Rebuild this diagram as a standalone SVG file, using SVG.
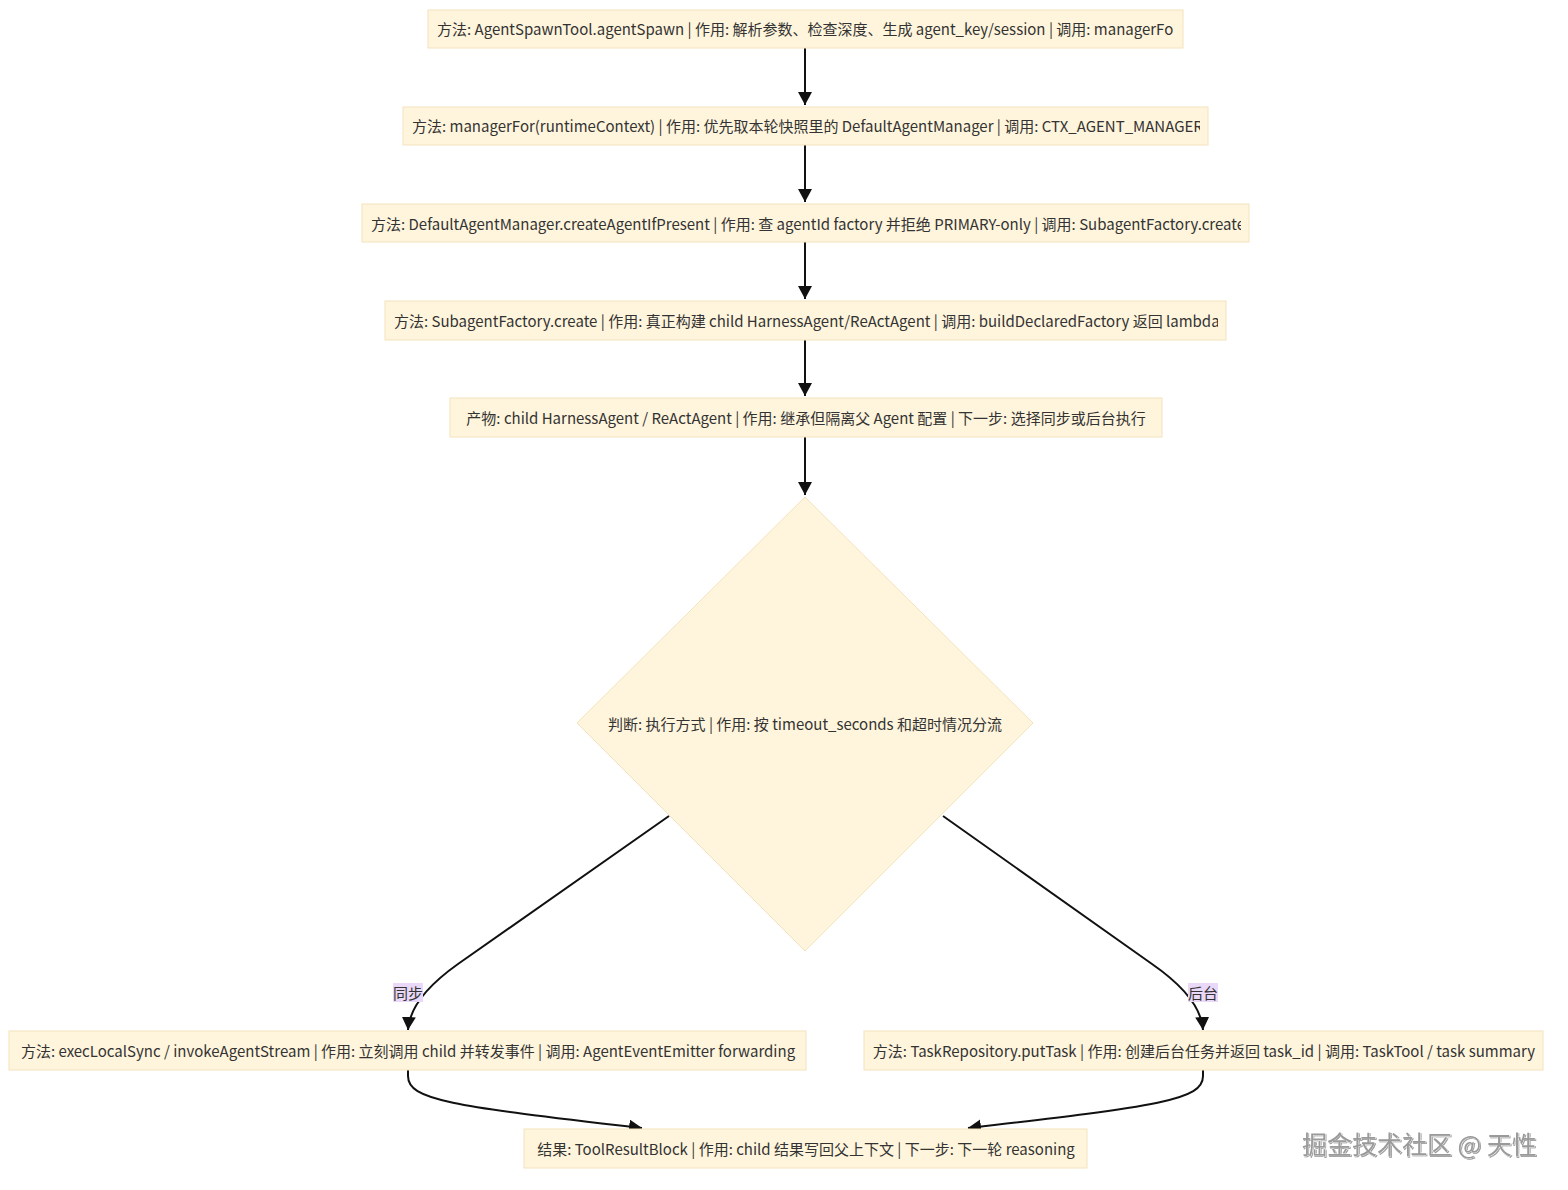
<svg xmlns="http://www.w3.org/2000/svg" width="1568" height="1190" viewBox="0 0 1568 1190">
<style>
.n{fill:#fff5dc;stroke:#f3e3bd;stroke-width:1}
.t{font-family:"Noto Sans CJK SC","Noto Sans",sans-serif;font-size:15px;fill:#333;dominant-baseline:central;text-anchor:middle}
.tl{font-family:"Noto Sans CJK SC","Noto Sans",sans-serif;font-size:15px;fill:#333;dominant-baseline:central}
.e{fill:none;stroke:#111;stroke-width:2}
.lb{fill:#ead8f8}
.wm{font-family:"Noto Sans CJK SC",sans-serif;font-size:25px;fill:#9a9a9a;stroke:#fff;stroke-width:0.6;paint-order:stroke}
</style>
<defs>
<marker id="a" markerUnits="userSpaceOnUse" markerWidth="16" markerHeight="16" refX="13" refY="7" orient="auto"><path d="M0,0 L13,7 L0,14 z" fill="#111"/></marker>
<clipPath id="c1"><rect x="430" y="10" width="744" height="38"/></clipPath>
<clipPath id="c2"><rect x="405" y="107" width="795" height="38"/></clipPath>
<clipPath id="c3"><rect x="364" y="204" width="877" height="38"/></clipPath>
<clipPath id="c4"><rect x="387" y="301" width="831" height="39"/></clipPath>
<filter id="sh" x="-5%" y="-20%" width="110%" height="140%"><feDropShadow dx="1" dy="1" stdDeviation="0.6" flood-color="#555" flood-opacity="0.6"/></filter>
</defs>
<g id="edges">
<path class="e" d="M805,48 L805,105" marker-end="url(#a)"/>
<path class="e" d="M805,145 L805,202" marker-end="url(#a)"/>
<path class="e" d="M805,242 L805,299" marker-end="url(#a)"/>
<path class="e" d="M805,340 L805,396" marker-end="url(#a)"/>
<path class="e" d="M805,437 L805,495" marker-end="url(#a)"/>
<path class="e" d="M669,816 L458,964 Q410,998 408,1030" marker-end="url(#a)"/>
<path class="e" d="M943,816 L1152,964 Q1201,998 1203,1030" marker-end="url(#a)"/>
<path class="e" d="M408,1070 L408,1076 C408,1100 450,1106 642,1128" marker-end="url(#a)"/>
<path class="e" d="M1203,1070 L1203,1076 C1203,1100 1160,1106 968,1128" marker-end="url(#a)"/>
<rect class="lb" x="393" y="983" width="30" height="19"/>
<text class="t" x="408" y="992">同步</text>
<rect class="lb" x="1188" y="983" width="30" height="19"/>
<text class="t" x="1203" y="992">后台</text>
</g>
<g id="n1"><rect class="n" x="428" y="10" width="755" height="38"/><text class="tl" x="437" y="28.5" clip-path="url(#c1)">方法: AgentSpawnTool.agentSpawn | 作用: 解析参数、检查深度、生成 agent_key/session | 调用: managerFor</text></g>
<g id="n2"><rect class="n" x="403" y="107" width="805" height="38"/><text class="tl" x="412" y="125.5" clip-path="url(#c2)">方法: managerFor(runtimeContext) | 作用: 优先取本轮快照里的 DefaultAgentManager | 调用: CTX_AGENT_MANAGER</text></g>
<g id="n3"><rect class="n" x="362" y="204" width="887" height="38"/><text class="tl" x="371" y="223" clip-path="url(#c3)">方法: DefaultAgentManager.createAgentIfPresent | 作用: 查 agentId factory 并拒绝 PRIMARY-only | 调用: SubagentFactory.create</text></g>
<g id="n4"><rect class="n" x="385" y="301" width="841" height="39"/><text class="tl" x="394" y="320" clip-path="url(#c4)">方法: SubagentFactory.create | 作用: 真正构建 child HarnessAgent/ReActAgent | 调用: buildDeclaredFactory 返回 lambda</text></g>
<g id="n5"><rect class="n" x="450" y="398" width="712" height="39"/><text class="t" x="806" y="417">产物: child HarnessAgent / ReActAgent | 作用: 继承但隔离父 Agent 配置 | 下一步: 选择同步或后台执行</text></g>
<g id="n6"><polygon class="n" points="805,497 1033,723 805,951 577,723"/><text class="t" x="805" y="723">判断: 执行方式 | 作用: 按 timeout_seconds 和超时情况分流</text></g>
<g id="n7"><rect class="n" x="9" y="1031" width="797" height="39"/><text class="t" x="408" y="1050">方法: execLocalSync / invokeAgentStream | 作用: 立刻调用 child 并转发事件 | 调用: AgentEventEmitter forwarding</text></g>
<g id="n8"><rect class="n" x="864" y="1031" width="679" height="39"/><text class="t" x="1204" y="1050">方法: TaskRepository.putTask | 作用: 创建后台任务并返回 task_id | 调用: TaskTool / task summary</text></g>
<g id="n9"><rect class="n" x="524" y="1129" width="563" height="39"/><text class="t" x="806" y="1148">结果: ToolResultBlock | 作用: child 结果写回父上下文 | 下一步: 下一轮 reasoning</text></g>
<text class="wm" x="1302" y="1154" filter="url(#sh)">掘金技术社区 @ 天性</text>
</svg>
